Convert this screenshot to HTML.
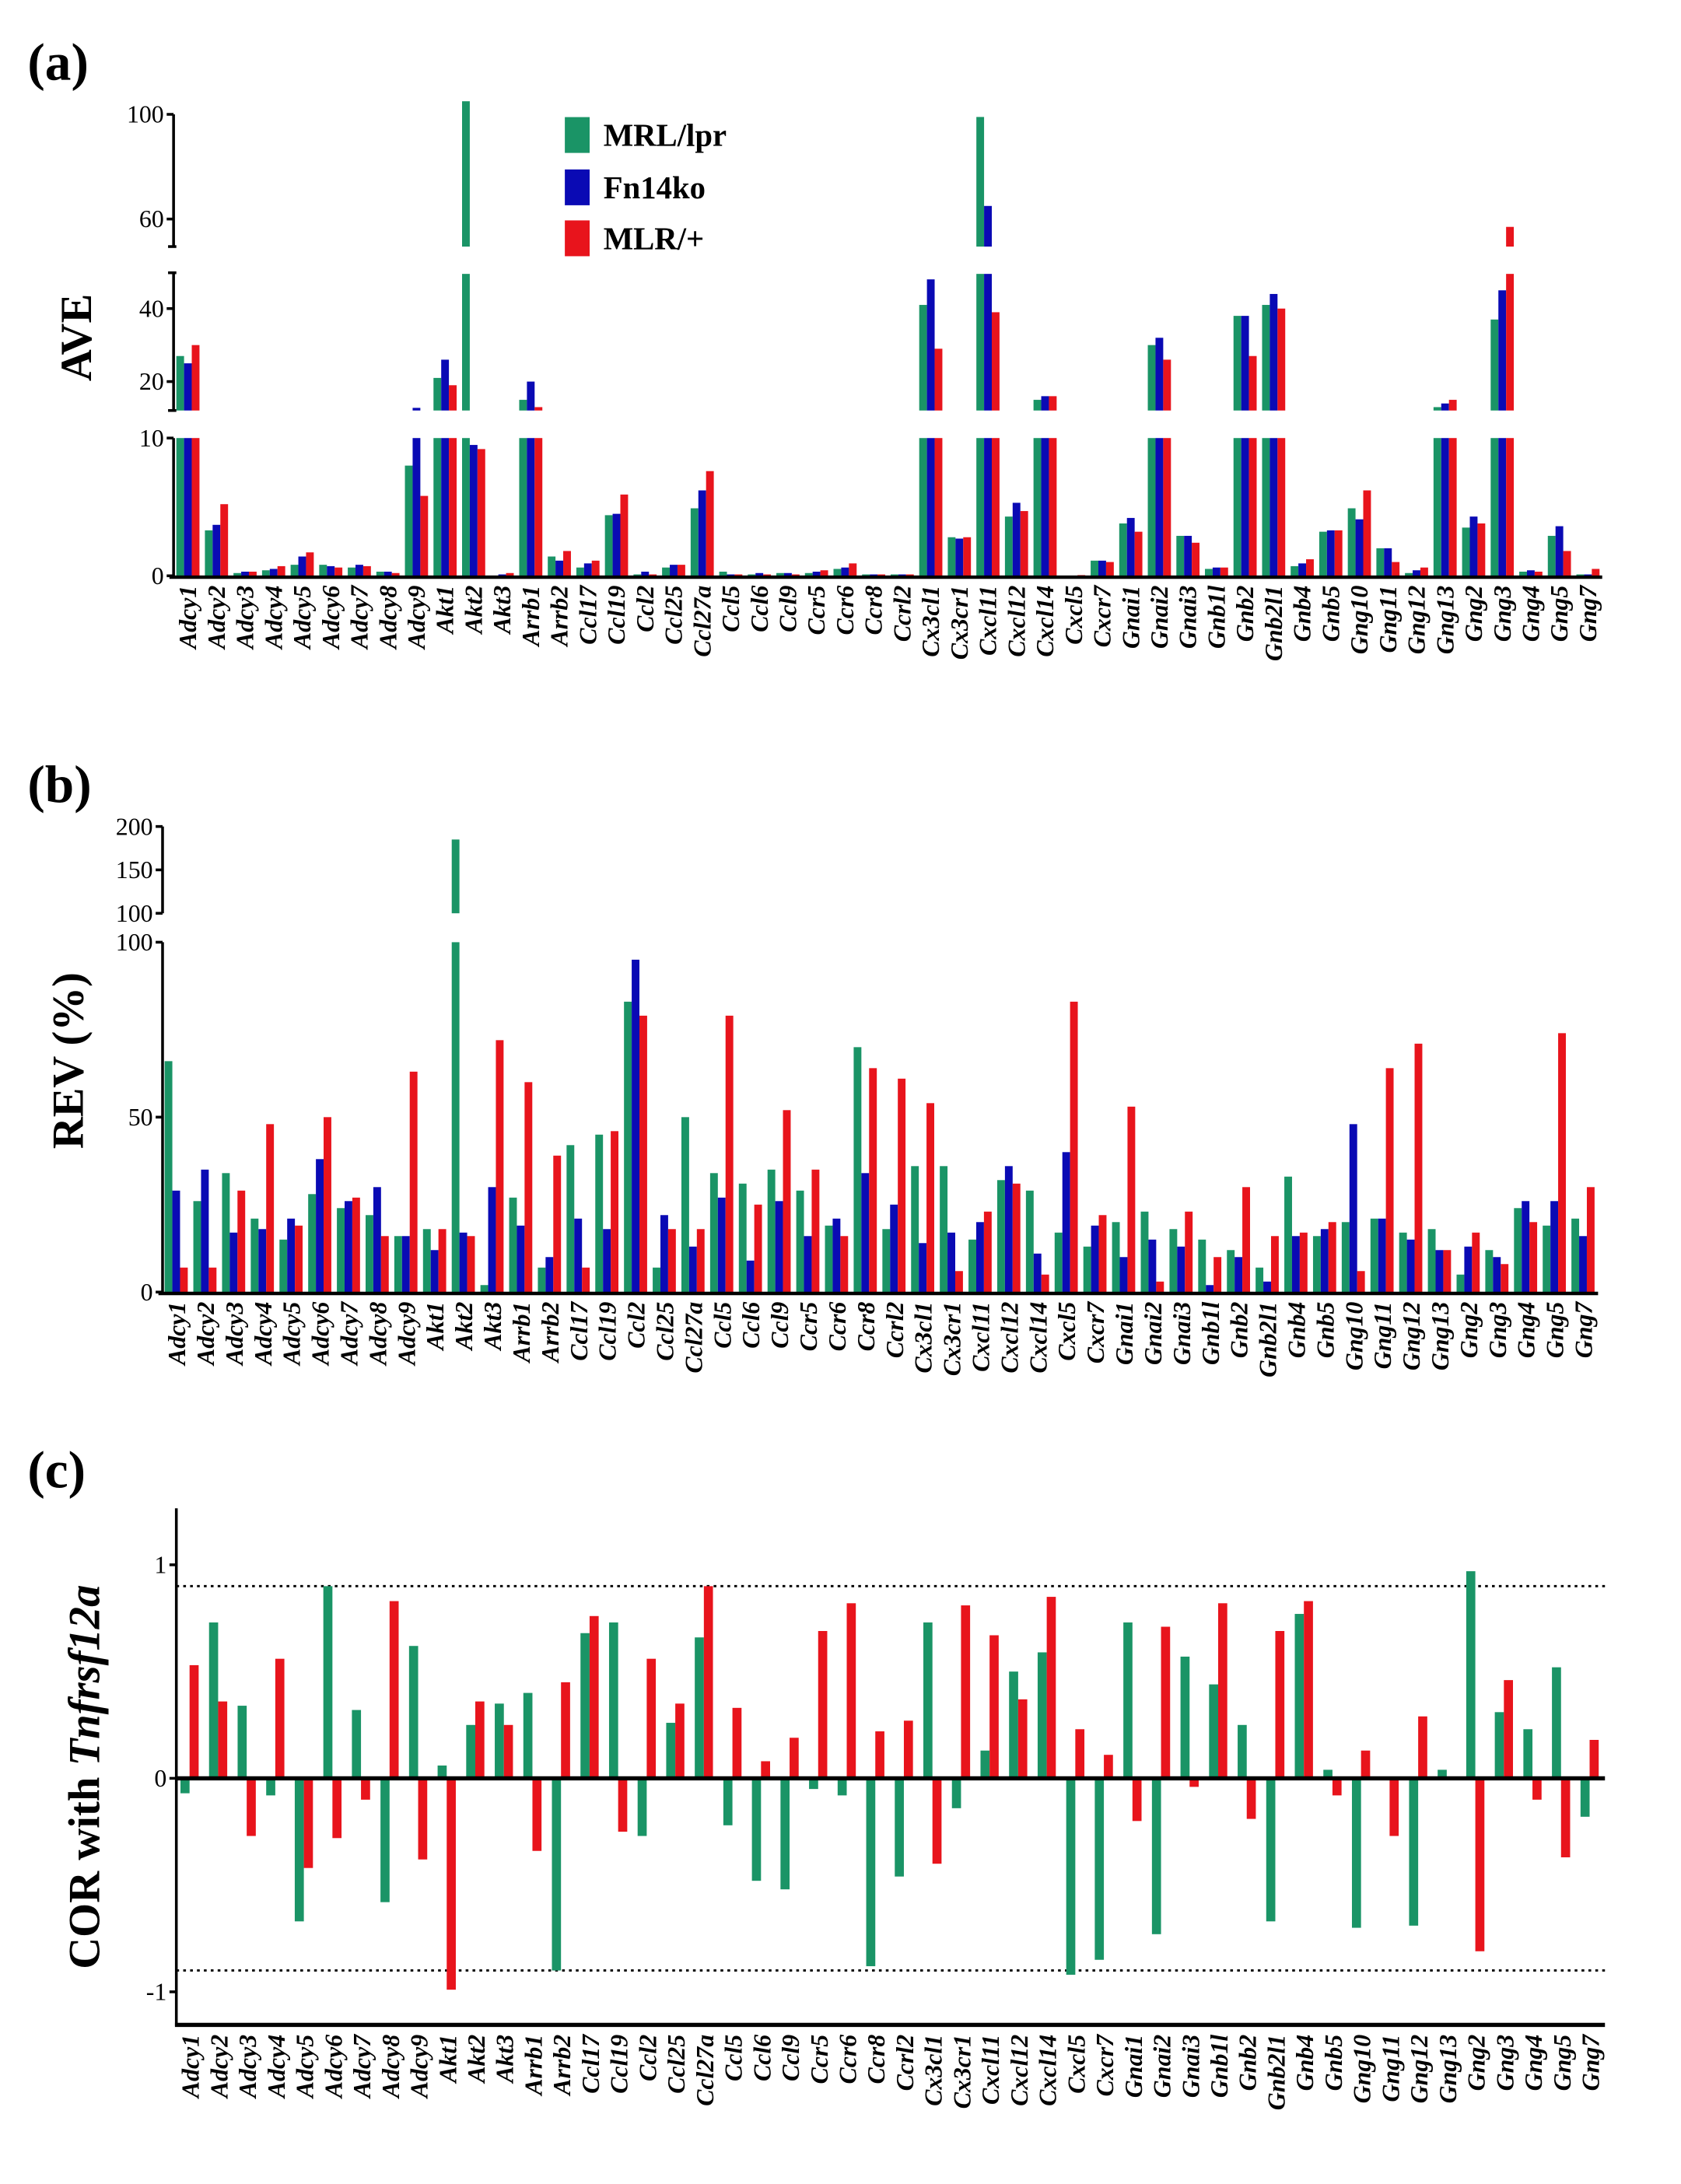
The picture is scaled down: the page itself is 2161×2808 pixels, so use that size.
<!DOCTYPE html>
<html><head><meta charset="utf-8"><style>
html,body{margin:0;padding:0;background:#fff;}
svg{display:block;}
text{font-family:"Liberation Serif",serif;}
</style></head><body>
<svg id="fig" xmlns="http://www.w3.org/2000/svg" width="2161" height="2808" viewBox="0 0 1220.2 1585.5">
<text x="20" y="58" font-size="38" font-weight="bold">(a)</text>
<text x="20" y="582" font-size="38" font-weight="bold">(b)</text>
<text x="20" y="1080" font-size="38" font-weight="bold">(c)</text>
<text transform="translate(66,245) rotate(-90)" text-anchor="middle" font-size="32" font-weight="bold">AVE</text>
<text transform="translate(60,770) rotate(-90)" text-anchor="middle" font-size="32" font-weight="bold">REV (%)</text>
<text transform="translate(72,1290) rotate(-90)" text-anchor="middle" font-size="32" font-weight="bold">COR with <tspan font-style="italic">Tnfrsf12a</tspan></text>
<g>
<rect x="410" y="85" width="18" height="26" fill="#1a9466"/>
<text x="438" y="106" font-size="23" font-weight="bold">MRL/lpr</text>
<rect x="410" y="123" width="18" height="26" fill="#0a0ab4"/>
<text x="438" y="144" font-size="23" font-weight="bold">Fn14ko</text>
<rect x="410" y="160" width="18" height="26" fill="#e8141c"/>
<text x="438" y="181" font-size="23" font-weight="bold">MLR/+</text>
</g>
<g id="pa"></g>
<g id="pb"></g>
<g id="pc"></g>
</svg>
<script>
const genes = ["Adcy1","Adcy2","Adcy3","Adcy4","Adcy5","Adcy6","Adcy7","Adcy8","Adcy9","Akt1","Akt2","Akt3","Arrb1","Arrb2","Ccl17","Ccl19","Ccl2","Ccl25","Ccl27a","Ccl5","Ccl6","Ccl9","Ccr5","Ccr6","Ccr8","Ccrl2","Cx3cl1","Cx3cr1","Cxcl11","Cxcl12","Cxcl14","Cxcl5","Cxcr7","Gnai1","Gnai2","Gnai3","Gnb1l","Gnb2","Gnb2l1","Gnb4","Gnb5","Gng10","Gng11","Gng12","Gng13","Gng2","Gng3","Gng4","Gng5","Gng7"];
const aveMRL = [27,3.3,0.2,0.4,0.8,0.8,0.6,0.3,8,21,105,0,15,1.4,0.6,4.4,0.1,0.6,4.9,0.3,0.1,0.2,0.2,0.5,0.1,0.1,41,2.8,99,4.3,15,0,1.1,3.8,30,2.9,0.5,38,41,0.7,3.2,4.9,2.0,0.2,13,3.5,37,0.3,2.9,0.1];
const aveFn14 = [25,3.7,0.3,0.5,1.4,0.7,0.8,0.3,12.8,26,9.5,0.1,20,1.1,0.9,4.5,0.3,0.8,6.2,0.1,0.2,0.2,0.3,0.6,0.1,0.1,48,2.7,65,5.3,16,0,1.1,4.2,32,2.9,0.6,38,44,0.9,3.3,4.1,2.0,0.4,14,4.3,45,0.4,3.6,0.1];
const aveMLR = [30,5.2,0.3,0.7,1.7,0.6,0.7,0.2,5.8,19,9.2,0.2,13,1.8,1.1,5.9,0.1,0.8,7.6,0.1,0.1,0.1,0.4,0.9,0.1,0.1,29,2.8,39,4.7,16,0.05,1.0,3.2,26,2.4,0.6,27,40,1.2,3.3,6.2,1.0,0.6,15,3.8,57,0.3,1.8,0.5];
const revMRL = [66,26,34,21,15,28,24,22,16,18,185,2,27,7,42,45,83,7,50,34,31,35,29,19,70,18,36,36,15,32,29,17,13,20,23,18,15,12,7,33,16,20,21,17,18,5,12,24,19,21];
const revFn14 = [29,35,17,18,21,38,26,30,16,12,17,30,19,10,21,18,95,22,13,27,9,26,16,21,34,25,14,17,20,36,11,40,19,10,15,13,2,10,3,16,18,48,21,15,12,13,10,26,26,16];
const revMLR = [7,7,29,48,19,50,27,16,63,18,16,72,60,39,7,46,79,18,18,79,25,52,35,16,64,61,54,6,23,31,5,83,22,53,3,23,10,30,16,17,20,6,64,71,12,17,8,20,74,30];
const corMRL = [-0.07,0.73,0.34,-0.08,-0.67,0.90,0.32,-0.58,0.62,0.06,0.25,0.35,0.40,-0.90,0.68,0.73,-0.27,0.26,0.66,-0.22,-0.48,-0.52,-0.05,-0.08,-0.88,-0.46,0.73,-0.14,0.13,0.50,0.59,-0.92,-0.85,0.73,-0.73,0.57,0.44,0.25,-0.67,0.77,0.04,-0.70,0,-0.69,0.04,0.97,0.31,0.23,0.52,-0.18];
const corMLR = [0.53,0.36,-0.27,0.56,-0.42,-0.28,-0.10,0.83,-0.38,-0.99,0.36,0.25,-0.34,0.45,0.76,-0.25,0.56,0.35,0.90,0.33,0.08,0.19,0.69,0.82,0.22,0.27,-0.40,0.81,0.67,0.37,0.85,0.23,0.11,-0.20,0.71,-0.04,0.82,-0.19,0.69,0.83,-0.08,0.13,-0.27,0.29,0,-0.81,0.46,-0.10,-0.37,0.18];
const aTicksLow = [0,10], aTicksMid = [20,40], aTicksUp = [60,100];
const bTicksLow = [0,50,100], bTicksUp = [100,150,200];
const cTicks = [-1,0,1];

const NS="http://www.w3.org/2000/svg";
const COL=["#1a9466","#0a0ab4","#e8141c"];
function mk(parent,tag,attrs){const e=document.createElementNS(NS,tag);for(const k in attrs)e.setAttribute(k,attrs[k]);parent.appendChild(e);return e;}
function line(p,x1,y1,x2,y2,w,extra){const e=mk(p,"line",Object.assign({x1,y1,x2,y2,stroke:"#000","stroke-width":w},extra||{}));return e;}
function tickLabel(p,x,y,t){const e=mk(p,"text",{x:x,y:y+6,"text-anchor":"end","font-size":"18"});e.textContent=t;return e;}
function catLabels(p,x0,cw,ytop){genes.forEach((g,i)=>{const x=x0+cw*(i+0.5)+6;const e=mk(p,"text",{transform:`translate(${x},${ytop}) rotate(-90)`,"text-anchor":"end","font-size":"18","font-style":"italic","font-weight":"bold"});


e.textContent=g;});}
function bar(p,x,w,y1,y2,c){if(Math.abs(y2-y1)<0.01)return;const e=mk(p,"rect",{x:x,y:Math.min(y1,y2),width:w,height:Math.abs(y2-y1),fill:c});


return e;}

// Panel A
(function(){
 const g=document.getElementById("pa");const x0=126,x1=1163,cw=(x1-x0)/genes.length,bw=5.6;
 const yL=v=>418-v*10, yM=v=>277-(v-20)*2.65, yU=v=>159-(v-60)*1.9;
 const series=[aveMRL,aveFn14,aveMLR];
 series.forEach((s,si)=>s.forEach((v,i)=>{const x=x0+cw*i+2+si*bw;
  bar(g,x,bw,418,yL(Math.min(v,10)),COL[si]);
  if(v>12.5)bar(g,x,bw,298,yM(Math.min(v,49.5)),COL[si]);
  if(v>50)bar(g,x,bw,179,yU(v),COL[si]);}));
 line(g,x0,318,x0,419,2);line(g,x0,198,x0,298,2);line(g,x0,83,x0,179,2);
 line(g,x0-3,419,x1,419,2.5);
 [298,198,179].forEach(y=>line(g,x0-4,y,x0+2,y,2));
 aTicksLow.forEach(v=>{line(g,x0-5,yL(v),x0,yL(v),2);tickLabel(g,x0-7,yL(v),v);});
 aTicksMid.forEach(v=>{line(g,x0-5,yM(v),x0,yM(v),2);tickLabel(g,x0-7,yM(v),v);});
 aTicksUp.forEach(v=>{line(g,x0-5,yU(v),x0,yU(v),2);tickLabel(g,x0-7,yU(v),v);});
 catLabels(g,x0,cw,425);
})();
// Panel B
(function(){
 const g=document.getElementById("pb");const x0=118,x1=1160,cw=(x1-x0)/genes.length,bw=5.6;
 const yL=v=>938-v*2.54, yU=v=>663-(v-100)*0.63;
 const series=[revMRL,revFn14,revMLR];
 series.forEach((s,si)=>s.forEach((v,i)=>{const x=x0+cw*i+1.5+si*bw;
  bar(g,x,bw,938,yL(Math.min(v,100)),COL[si]);
  if(v>100)bar(g,x,bw,663,yU(v),COL[si]);}));
 line(g,x0,684,x0,939,2);line(g,x0,600,x0,663,2);
 line(g,x0-3,939,x1,939,2.5);
 bTicksLow.forEach(v=>{line(g,x0-5,yL(v),x0,yL(v),2);tickLabel(g,x0-7,yL(v),v);});
 bTicksUp.forEach(v=>{line(g,x0-5,yU(v),x0,yU(v),2);tickLabel(g,x0-7,yU(v),v);});
 catLabels(g,x0,cw,945);
})();
// Panel C
(function(){
 const g=document.getElementById("pc");const x0=128,x1=1165,cw=(x1-x0)/genes.length,bw=6.6;
 const y=v=>1291-v*155;
 line(g,x0,y(0.9),x1,y(0.9),1.6,{"stroke-dasharray":"2,3"});
 line(g,x0,y(-0.9),x1,y(-0.9),1.6,{"stroke-dasharray":"2,3"});
 [corMRL,corMLR].forEach((s,si)=>s.forEach((v,i)=>{const x=x0+cw*i+3+si*bw;bar(g,x,bw,y(0),y(v),COL[si===0?0:2]);}));
 line(g,x0,y(0),x1,y(0),3);
 line(g,x0,1095,x0,1471,2);line(g,x0-1,1470,x1,1470,3);
 cTicks.forEach(v=>{line(g,x0-5,y(v),x0,y(v),2);tickLabel(g,x0-7,y(v),v);});
 catLabels(g,x0,cw,1477);
})();
</script>
</body></html>
